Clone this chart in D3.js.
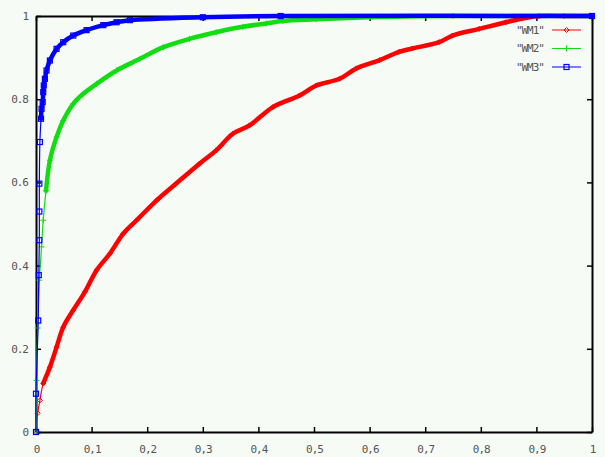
<!DOCTYPE html>
<html>
<head>
<meta charset="utf-8">
<script src="https://cdn.jsdelivr.net/npm/d3@7"></script>
<style>
  body { margin: 0; background: #f6fbf6; }
  svg { display: block; }
</style>
</head>
<body>
<script>
// series
const seriesNames = ['"WM1"', '"WM2"', '"WM3"'];

const wm1X = [0, 0.003, 0.007, 0.013, 0.025, 0.037, 0.049, 0.067, 0.088, 0.109, 0.133, 0.157, 0.181, 0.217, 0.25, 0.294, 0.324, 0.354, 0.384, 0.426, 0.474, 0.504, 0.546, 0.576, 0.618, 0.653, 0.677, 0.725, 0.749, 0.797, 0.845, 0.875, 0.905, 0.95, 1];
const wm1Y = [0, 0.045, 0.076, 0.117, 0.156, 0.204, 0.252, 0.293, 0.337, 0.389, 0.429, 0.477, 0.509, 0.557, 0.595, 0.645, 0.677, 0.717, 0.737, 0.781, 0.809, 0.833, 0.849, 0.874, 0.894, 0.914, 0.922, 0.937, 0.953, 0.969, 0.985, 0.994, 1, 1, 1];

const wm2X = [0, 0.001, 0.003, 0.006, 0.010, 0.013, 0.018, 0.025, 0.037, 0.049, 0.067, 0.085, 0.109, 0.145, 0.187, 0.229, 0.276, 0.324, 0.372, 0.414, 0.444, 0.504, 0.6, 0.75, 1];
const wm2Y = [0, 0.124, 0.25, 0.365, 0.445, 0.509, 0.58, 0.653, 0.709, 0.749, 0.789, 0.813, 0.837, 0.869, 0.897, 0.925, 0.945, 0.961, 0.974, 0.982, 0.988, 0.992, 0.997, 1, 1];

const wm3X = [0, 0, 0.004, 0.005, 0.006, 0.006, 0.006, 0.007, 0.009, 0.010, 0.012, 0.013, 0.014, 0.016, 0.019, 0.025, 0.037, 0.049, 0.067, 0.091, 0.121, 0.145, 0.169, 0.3, 0.44, 1];
const wm3Y = [0, 0.092, 0.268, 0.377, 0.461, 0.53, 0.597, 0.697, 0.753, 0.777, 0.793, 0.817, 0.833, 0.849, 0.869, 0.893, 0.921, 0.937, 0.953, 0.966, 0.978, 0.985, 0.99, 0.997, 1, 1];

const xTicks = [0, 0.1, 0.2, 0.3, 0.4, 0.5, 0.6, 0.7, 0.8, 0.9, 1];
const yTicks = [0, 0.2, 0.4, 0.6, 0.8, 1];

// canvas
const W = 605, H = 457;
const plotL = 36, plotR = 592, plotT = 16, plotB = 432;

const svg = d3.select("body").append("svg")
  .attr("width", W)
  .attr("height", H)
  .style("background-color", "#f6fbf6");

const x = d3.scaleLinear().domain([0, 1]).range([plotL, plotR]);
const y = d3.scaleLinear().domain([0, 1]).range([plotB, plotT]);

const FONT = "'DejaVu Sans Mono', monospace";

// axes: labelled bottom/left, mirrored ticks top/right, all ticks inward
const ax = svg.append("g").attr("transform", `translate(0,${plotB})`)
  .call(d3.axisBottom(x).tickValues(xTicks).tickSizeInner(-5).tickSizeOuter(0).tickPadding(13)
    .tickFormat(d => d3.format("~g")(d).replace(".", ",")));
const ay = svg.append("g").attr("transform", `translate(${plotL},0)`)
  .call(d3.axisLeft(y).tickValues(yTicks).tickSizeInner(-5).tickSizeOuter(0).tickPadding(8)
    .tickFormat(d => d3.format("~g")(d)));
const at = svg.append("g").attr("transform", `translate(0,${plotT})`)
  .call(d3.axisTop(x).tickValues(xTicks).tickSizeInner(-5).tickSizeOuter(0).tickFormat(""));
const ar = svg.append("g").attr("transform", `translate(${plotR},0)`)
  .call(d3.axisRight(y).tickValues(yTicks).tickSizeInner(-5).tickSizeOuter(0).tickFormat(""));

[ax, ay, at, ar].forEach(g => {
  g.select(".domain").attr("stroke", "#000").attr("stroke-width", 2);
  g.selectAll(".tick line").attr("stroke", "#000").attr("stroke-width", 1.5);
  g.selectAll(".tick text").attr("fill", "#555").style("font-family", FONT)
    .style("font-size", "11px").style("letter-spacing", "-1px");
});

// curves
const series = [
  { name: seriesNames[0], xs: wm1X, ys: wm1Y, color: "#ff0000", shape: "diamond", denseFrom: 3 },
  { name: seriesNames[1], xs: wm2X, ys: wm2Y, color: "#11dd11", shape: "plus", denseFrom: 6 },
  { name: seriesNames[2], xs: wm3X, ys: wm3Y, color: "#0000ff", shape: "square", denseFrom: 8 }
];

const line = d3.line().x(d => x(d[0])).y(d => y(d[1])).curve(d3.curveCatmullRom.alpha(0.5));

function marker(g, shape, color, cx, cy) {
  if (shape == "diamond") {
    g.append("path").attr("d", `M${cx},${cy - 2.5}L${cx + 2.5},${cy}L${cx},${cy + 2.5}L${cx - 2.5},${cy}Z`)
      .attr("fill", "none").attr("stroke", color).attr("stroke-width", 1);
  } else if (shape == "plus") {
    g.append("path").attr("d", `M${cx - 3},${cy}H${cx + 3}M${cx},${cy - 3}V${cy + 3}`)
      .attr("stroke", color).attr("stroke-width", 1);
  } else {
    g.append("rect").attr("x", cx - 2.5).attr("y", cy - 2.5).attr("width", 5).attr("height", 5)
      .attr("fill", "none").attr("stroke", color).attr("stroke-width", 1.2);
  }
}

series.forEach(s => {
  const pts = s.xs.map((v, i) => [v, s.ys[i]]);
  const g = svg.append("g");
  // thin connecting line
  g.append("path").attr("d", line(pts)).attr("fill", "none")
    .attr("stroke", s.color).attr("stroke-width", 1.2);
  // dense marker band where the points pile up
  g.append("path").attr("d", line(pts.slice(s.denseFrom))).attr("fill", "none")
    .attr("stroke", s.color).attr("stroke-width", 4.5)
    .attr("stroke-linejoin", "round").attr("stroke-linecap", "round");
  pts.forEach(p => marker(g, s.shape, s.color, x(p[0]), y(p[1])));
});

// legend
const legendY = [30, 48.5, 67];
series.forEach((s, i) => {
  const g = svg.append("g");
  g.append("text").attr("x", 544).attr("y", legendY[i]).attr("dy", "0.35em")
    .attr("text-anchor", "end").attr("fill", "#555")
    .style("font-family", FONT).style("font-size", "11px").style("letter-spacing", "-1px")
    .text(s.name);
  g.append("line").attr("x1", 552).attr("x2", 581).attr("y1", legendY[i]).attr("y2", legendY[i])
    .attr("stroke", s.color).attr("stroke-width", 1);
  marker(g, s.shape, s.color, 566.5, legendY[i]);
});
</script>
</body>
</html>
